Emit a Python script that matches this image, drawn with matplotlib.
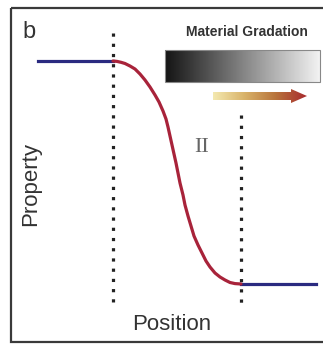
import matplotlib
matplotlib.use("Agg")
import matplotlib.pyplot as plt
import numpy as np
from matplotlib.colors import LinearSegmentedColormap
from matplotlib.patches import Polygon, Rectangle

# schematic in picture units (x to the right, y downwards)
left_pos = [38, 113]
left_prop = [61, 61]
right_pos = [241, 316]
right_prop = [284, 284]

# transition zone II
curve_pos = [113, 117, 121, 125, 130, 135, 140, 145, 150, 155, 159, 163,
             166, 168, 170, 172, 174, 176, 178, 180, 183, 185, 188, 191,
             194, 198, 202, 206, 210, 215, 220, 225, 230, 235, 241]
curve_prop = [61, 61.4, 62.3, 63.5, 66, 69, 74, 80, 87, 95, 102, 111,
              119, 127, 136, 145, 154, 163, 173, 183, 195, 205, 216, 226,
              236, 245, 253, 261, 267, 273, 277, 280, 282.5, 283.6, 284]

boundary_pos = [113, 241]
boundary_top = [33, 115]
boundary_bottom = 307

BLUE = "#2a2a80"
RED = "#a8233a"


def main() -> None:
    fig = plt.figure(figsize=(3.23, 3.45), dpi=100)
    ax = fig.add_axes([0, 0, 1, 1])
    ax.set_xlim(0, 323)
    ax.set_ylim(345, 0)
    ax.axis("off")

    # frame
    ax.add_patch(Rectangle((11, 8), 330, 334, fill=False, ec="#3a3a3a", lw=1.6))

    for x, top in zip(boundary_pos, boundary_top):
        ax.plot([x, x], [top, boundary_bottom], color="#222222", lw=2.3,
                linestyle=(0, (1, 2.2)), solid_capstyle="butt",
                dash_capstyle="butt", zorder=2)

    ax.plot(left_pos, left_prop, color=BLUE, lw=2.3, zorder=3)
    ax.plot(right_pos, right_prop, color=BLUE, lw=2.3, zorder=3)
    ax.plot(curve_pos, curve_prop, color=RED, lw=2.3, zorder=4,
            solid_joinstyle="round", solid_capstyle="round")

    # material gradation bar
    grad = np.linspace(0.08, 0.95, 256)
    ax.imshow(grad[None, :], cmap="gray", vmin=0, vmax=1, aspect="auto",
              extent=[165, 320, 82, 50], zorder=1)
    ax.add_patch(Rectangle((165, 50), 155, 32, fill=False, ec="#888888", lw=0.8))

    # gradient arrow
    arrow = Polygon([[213, 92], [291, 92], [291, 89], [307, 96],
                     [291, 103], [291, 100], [213, 100]],
                    closed=True, fc="none", ec="none")
    ax.add_patch(arrow)
    cmap = LinearSegmentedColormap.from_list(
        "grad", ["#f4e9b0", "#d9b36a", "#b8743c", "#a82a2e"])
    im = ax.imshow(np.linspace(0, 1, 256)[None, :], cmap=cmap, aspect="auto",
                   extent=[213, 307, 104, 88], zorder=2)
    im.set_clip_path(arrow)

    ax.text(22, 38, "b", fontsize=17, family="Liberation Sans", color="#333333")
    ax.text(247, 32, "Material Gradation", fontsize=10, fontweight="bold",
            family="Liberation Sans", color="#333333", ha="center", va="center")
    ax.text(202, 148, "II", fontsize=16, family="Liberation Serif",
            color="#666666", ha="center", va="center")
    ax.text(31, 184, "Property", fontsize=16, family="Liberation Sans",
            color="#333333", rotation=90, ha="center", va="center")
    ax.text(172, 324, "Position", fontsize=16, family="Liberation Sans",
            color="#333333", ha="center", va="center")

    fig.savefig("out.png", dpi=100)


if __name__ == "__main__":
    main()
